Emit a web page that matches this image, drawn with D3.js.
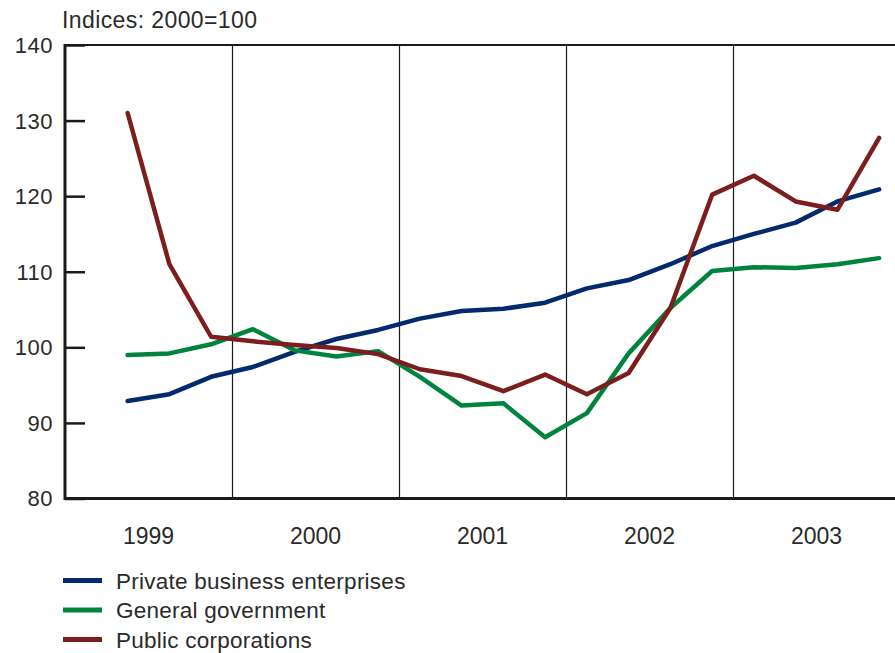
<!DOCTYPE html>
<html><head><meta charset="utf-8">
<script src="https://cdn.jsdelivr.net/npm/d3@7"></script>
<style>
body{margin:0;background:#fff;}
svg text{font-family:"Liberation Sans",Arial,sans-serif;fill:#2a2a2a;}
</style></head>
<body><svg id="c" width="895" height="653"></svg>
<script>
const years = ["1999","2000","2001","2002","2003"];
const quarters = ["1999Q2","1999Q3","1999Q4","2000Q1","2000Q2","2000Q3","2000Q4","2001Q1","2001Q2","2001Q3","2001Q4","2002Q1","2002Q2","2002Q3","2002Q4","2003Q1","2003Q2","2003Q3","2003Q4"];
const privateBusiness = [92.9,93.8,96.1,97.4,99.4,101.1,102.3,103.8,104.8,105.1,105.9,107.8,108.9,111.0,113.4,115.0,116.5,119.3,120.9];
const generalGov = [99.0,99.2,100.4,102.4,99.6,98.8,99.5,96.1,92.3,92.6,88.1,91.3,99.2,105.2,110.1,110.6,110.5,111.0,111.8];
const publicCorp = [131.0,111.0,101.4,100.8,100.3,99.9,99.1,97.1,96.2,94.2,96.4,93.8,96.6,105.2,120.2,122.7,119.3,118.2,127.7];
const yTicks = [80,90,100,110,120,130,140];
const seriesNames = ["Private business enterprises","General government","Public corporations"];
const seriesColors = ["#022a6c","#00843d","#7d1e1e"];
const seriesData = [privateBusiness, generalGov, publicCorp];

const svg = d3.select("#c");
const L = 65, R = 900, T = 45, B = 498.5;
const y = d3.scaleLinear().domain([80,140]).range([B,T]);
const x = d3.scaleLinear().domain([0,20]).range([L,R]);
const qIndex = q => (+q.slice(0,4)-1999)*4 + (+q.slice(5)-1) + 0.5;

years.slice(1).forEach((yr,i)=>{
  const xv = Math.round(x((i+1)*4))+0.5;
  svg.append("line").attr("x1",xv).attr("x2",xv).attr("y1",T).attr("y2",B)
    .attr("stroke","#1a1a1a").attr("stroke-width",1.2);
});

const yAxis = d3.axisRight(y).tickValues(yTicks).tickSize(20).tickFormat("");
const ga = svg.append("g").attr("transform",`translate(${L},0)`).call(yAxis);
ga.select(".domain").remove();
ga.selectAll("line").attr("stroke","#1a1a1a").attr("stroke-width",2.5);
yTicks.forEach(t=>{
  svg.append("text").attr("x",53).attr("y",y(t)).attr("dy","0.36em")
    .attr("text-anchor","end").attr("font-size",22).attr("letter-spacing",0.5).text(t);
});

svg.append("line").attr("x1",L).attr("x2",R).attr("y1",T).attr("y2",T).attr("stroke","#1a1a1a").attr("stroke-width",2);
svg.append("line").attr("x1",L).attr("x2",L).attr("y1",T-1).attr("y2",B+1.5).attr("stroke","#1a1a1a").attr("stroke-width",3);
svg.append("line").attr("x1",L).attr("x2",R).attr("y1",B).attr("y2",B).attr("stroke","#1a1a1a").attr("stroke-width",3);

years.forEach((yr,i)=>{
  svg.append("text").attr("x",x(i*4+2)).attr("y",535.5).attr("dy","0.36em")
    .attr("text-anchor","middle").attr("font-size",23).text(yr);
});

svg.append("text").attr("x",62).attr("y",28.3).attr("font-size",23).attr("letter-spacing",0.4).text("Indices: 2000=100");

const line = d3.line().x((d,i)=>x(qIndex(quarters[i]))).y(d=>y(d));
seriesData.forEach((s,k)=>{
  svg.append("path").datum(s).attr("d",line).attr("fill","none")
    .attr("stroke",seriesColors[k]).attr("stroke-width",4.5)
    .attr("stroke-linejoin","round").attr("stroke-linecap","round");
});

seriesNames.forEach((n,k)=>{
  const yy = 580.5 + k*29.5;
  svg.append("line").attr("x1",63).attr("x2",102).attr("y1",yy).attr("y2",yy)
    .attr("stroke",seriesColors[k]).attr("stroke-width",5);
  svg.append("text").attr("x",116).attr("y",yy).attr("dy","0.36em").attr("font-size",22.5).attr("letter-spacing",0.25).text(n);
});
</script></body></html>
